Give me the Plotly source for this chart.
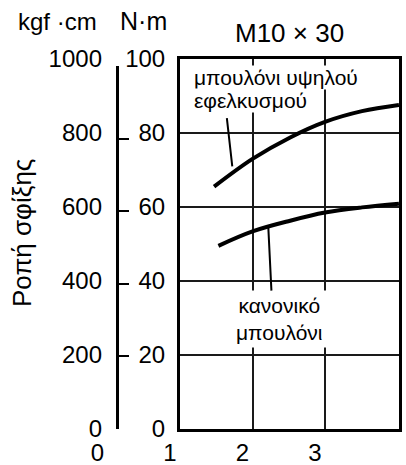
import plotly.graph_objects as go

# ---- data ----
high_x = [1.47, 2.0, 2.52, 3.0, 3.51, 4.02]
high_y = [65.5, 73.0, 78.8, 83.0, 85.9, 87.6]
norm_x = [1.53, 2.0, 2.52, 3.0, 3.51, 4.02]
norm_y = [49.5, 53.4, 56.3, 58.5, 59.9, 60.9]
x_ticks = [0, 1, 2, 3]
x_grid = [2, 3]
nm_ticks = [0, 20, 40, 60, 80, 100]
kgf_ticks = [0, 200, 400, 600, 800, 1000]
KGF_TO_NM = 0.0980665

title_text = "M10 × 30"
unit_kgf = "kgf ·cm"
unit_nm = "N·m"
y_title = "Ροπή σφίξης"
label_high_1 = "μπουλόνι υψηλού"
label_high_2 = "εφελκυσμού"
label_norm = "κανονικό<br>μπουλόνι"

# body margin is removed by the post script, so the figure sits at (0, 0)
OFF = 0
W, H = 406 - OFF, 465 - OFF
def px(v):
    return (v - OFF) / W
def py(v):
    return 1 - (v - OFF) / H

FONT = "Liberation Sans, Arial, sans-serif"
x_max = 1 + (399 - 180) / 72.5

y_bot, y_top = py(429), py(59)
kgf_top = y_bot + (y_top - y_bot) * 1000 * KGF_TO_NM / 100

fig = go.Figure()
fig.add_trace(go.Scatter(x=high_x, y=high_y, mode="lines",
                         line=dict(color="black", width=4, shape="spline"),
                         showlegend=False, hoverinfo="skip"))
fig.add_trace(go.Scatter(x=norm_x, y=norm_y, mode="lines",
                         line=dict(color="black", width=4, shape="spline"),
                         showlegend=False, hoverinfo="skip"))
# helper (empty) traces so the extra axes are drawn
fig.add_trace(go.Scatter(x=[], y=[], xaxis="x2", yaxis="y2", showlegend=False, hoverinfo="skip"))
fig.add_trace(go.Scatter(x=[], y=[], xaxis="x", yaxis="y3", showlegend=False, hoverinfo="skip"))
fig.add_trace(go.Scatter(x=[], y=[], xaxis="x", yaxis="y4", showlegend=False, hoverinfo="skip"))

grid = dict(showgrid=True, gridcolor="#1a1a1a", gridwidth=1.5, zeroline=False,
            showline=True, linecolor="black", linewidth=3, mirror=True, ticks="",
            automargin=False)

fig.update_layout(
    template="none",
    width=W, height=H, autosize=False,
    margin=dict(l=0, r=0, t=0, b=0, pad=0),
    paper_bgcolor="white", plot_bgcolor="rgba(0,0,0,0)",
    font=dict(family=FONT, color="black", size=24),
    xaxis=dict(domain=[px(180), px(399)], range=[1, x_max], tickvals=x_grid,
               showticklabels=False, **grid),
    yaxis=dict(domain=[y_bot, y_top], range=[0, 100], tickvals=nm_ticks,
               tickfont=dict(size=24), ticklabelstandoff=7, **grid),
    xaxis2=dict(domain=[px(107.5), px(399)], range=[0, x_max], anchor="y2",
                tickvals=x_ticks, showgrid=False, showline=False, zeroline=False,
                ticks="", tickfont=dict(size=24), ticklabelshift=-10,
                ticklabelstandoff=7, automargin=False),
    yaxis2=dict(domain=[y_bot, kgf_top], range=[0, 1000], anchor="free",
                position=px(117), tickvals=kgf_ticks, ticks="inside", ticklen=10,
                tickwidth=2, tickcolor="black", showline=True, linecolor="black",
                linewidth=3, showticklabels=False, showgrid=False, zeroline=False,
                automargin=False),
    yaxis3=dict(overlaying="y", anchor="free", position=px(117), side="left",
                range=[0, 1000], tickvals=kgf_ticks, ticks="", showline=False,
                showgrid=False, zeroline=False, tickfont=dict(size=24),
                ticklabelstandoff=15, automargin=False),
    yaxis4=dict(overlaying="y", anchor="x", side="right", range=[0, 100],
                showline=True, linecolor="black", linewidth=3, ticks="",
                showticklabels=False, showgrid=False, zeroline=False,
                automargin=False),
)

ann = []
ann.append(dict(x=px(289), y=py(33), xref="paper", yref="paper", text=title_text,
                showarrow=False, font=dict(size=26), xanchor="center", yanchor="middle"))
ann.append(dict(x=px(57), y=py(21), xref="paper", yref="paper", text=unit_kgf,
                showarrow=False, font=dict(size=24), xanchor="center", yanchor="middle"))
ann.append(dict(x=px(143), y=py(21), xref="paper", yref="paper", text=unit_nm,
                showarrow=False, font=dict(size=25), xanchor="center", yanchor="middle"))
ann.append(dict(x=px(22), y=py(233), xref="paper", yref="paper", text=y_title,
                textangle=-90, showarrow=False, font=dict(size=26),
                xanchor="center", yanchor="middle"))
ann.append(dict(x=1.18, y=(429 - 77) / 3.7, xref="x", yref="y", text=label_high_1,
                align="left", showarrow=False, font=dict(size=21), xanchor="left",
                yanchor="middle", bgcolor="white", borderpad=0))
ann.append(dict(x=1.18, y=(429 - 100) / 3.7, xref="x", yref="y", text=label_high_2,
                align="left", showarrow=False, font=dict(size=21), xanchor="left",
                yanchor="middle", bgcolor="white", borderpad=0))
ann.append(dict(x=2.379, y=29.6, xref="x", yref="y", text=label_norm, align="center",
                showarrow=False, font=dict(size=21), xanchor="center", yanchor="middle",
                bgcolor="white", borderpad=3))
# leader lines
ann.append(dict(x=1.721, y=71.0, ax=1.644, ay=84.4, xref="x", yref="y", axref="x",
                ayref="y", text="", showarrow=True, arrowhead=0, arrowwidth=2,
                arrowcolor="black", standoff=0, startstandoff=0))
ann.append(dict(x=2.218, y=54.5, ax=2.262, ay=37.0, xref="x", yref="y", axref="x",
                ayref="y", text="", showarrow=True, arrowhead=0, arrowwidth=2,
                arrowcolor="black", standoff=0, startstandoff=0))
fig.update_layout(annotations=ann)

fig.write_html("out.html", config={"displayModeBar": False},
               post_script="document.body.style.margin='0';"
                           "document.body.style.overflow='hidden';")
